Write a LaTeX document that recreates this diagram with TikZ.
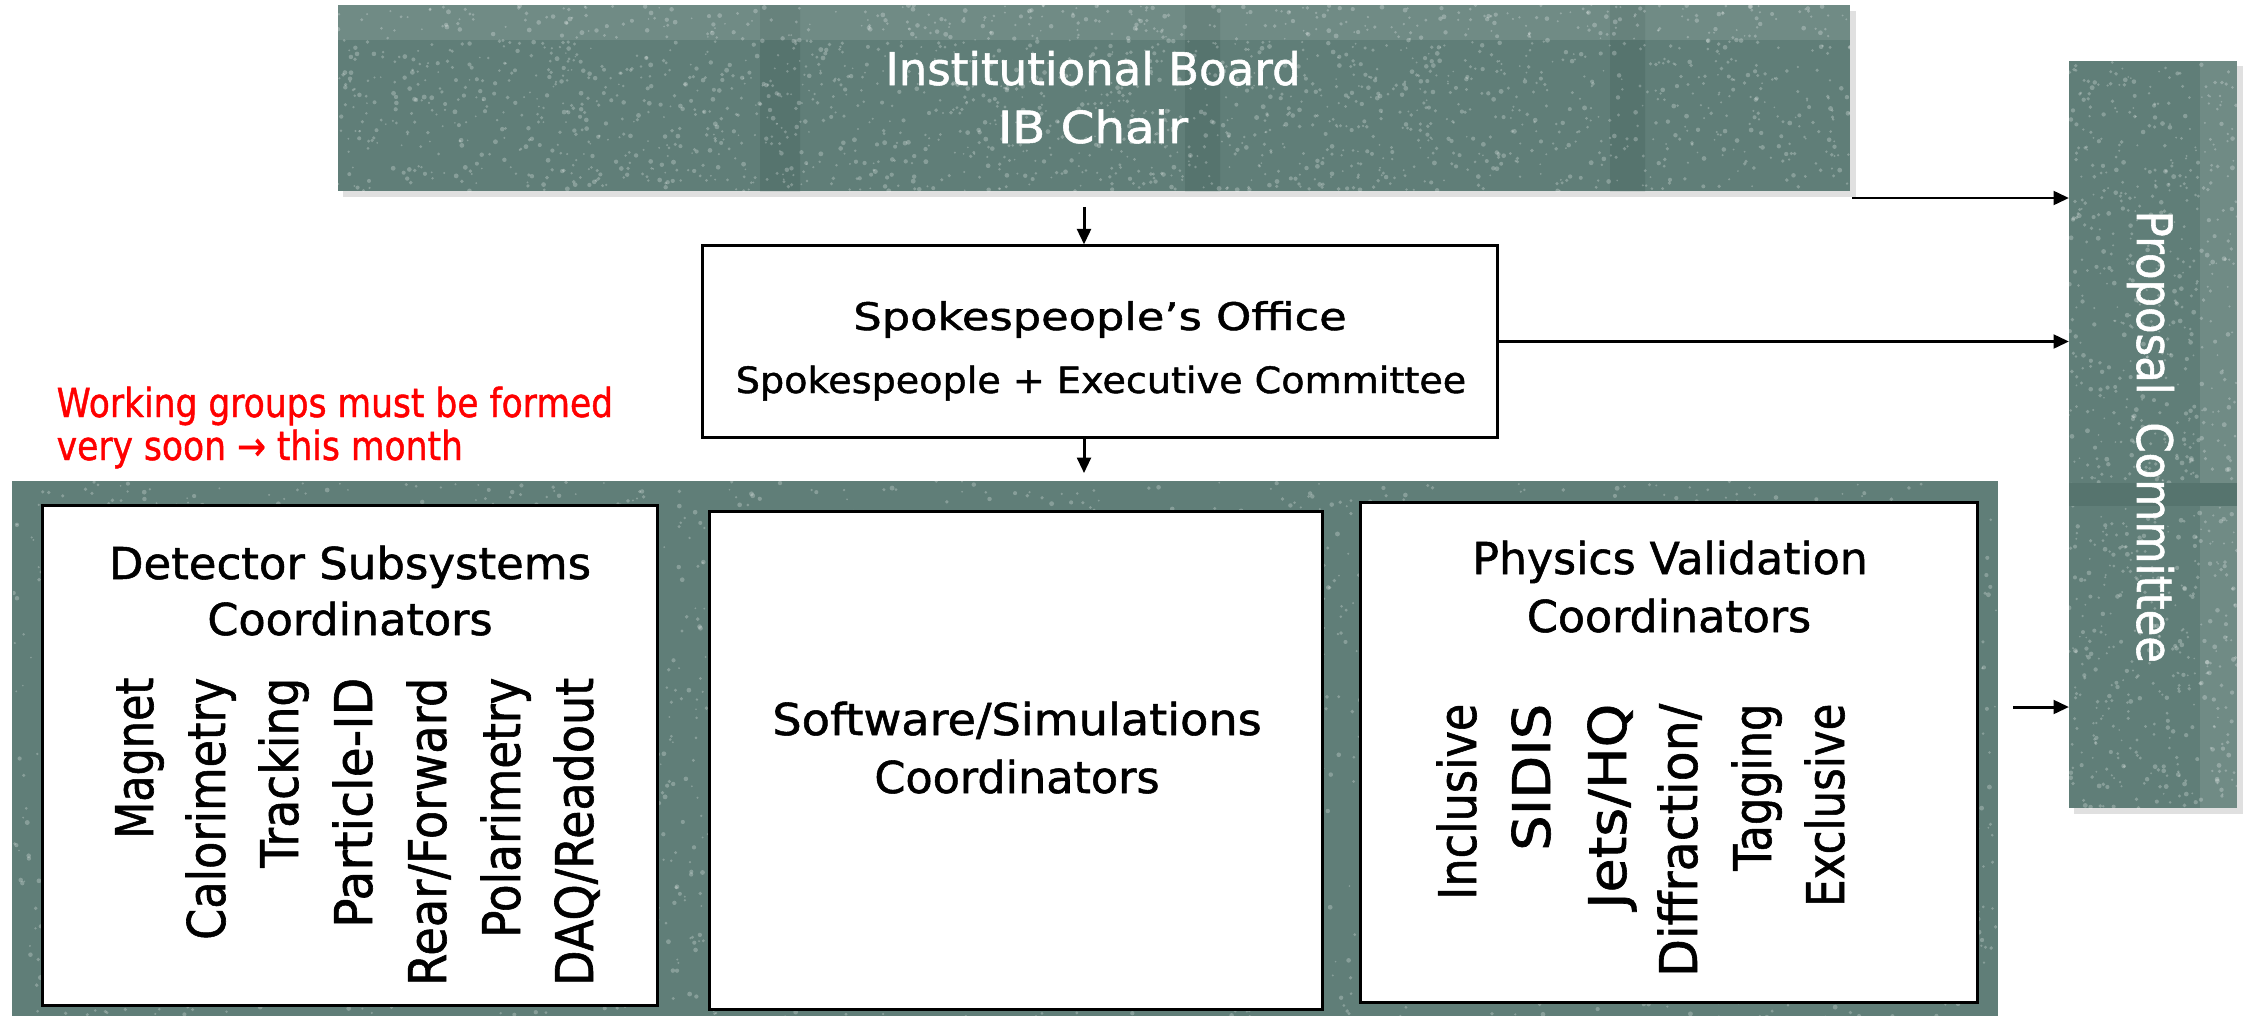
\documentclass[tikz,border=0pt]{standalone}
\usepackage{fontspec}
\setmainfont{DejaVu Sans}[FakeBold=1.2]
\usetikzlibrary{arrows.meta,calc}
\definecolor{chalk}{RGB}{96,126,120}
\definecolor{chalkdark}{RGB}{86,116,110}
\definecolor{redtxt}{RGB}{255,0,0}
\newsavebox{\fitbox}
\newcommand{\fitt}[3]{%
  \fontsize{#1}{#1}\selectfont\sbox{\fitbox}{#3}%
  \pgfmathsetmacro\fitfac{(#2)/\wd\fitbox}%
  \scalebox{\fitfac}[1]{\usebox{\fitbox}}}
\newcommand{\speckle}[5]{%
  \begin{scope}[fill opacity=0.25]
    \clip (#1,#2) rectangle (#3,#4);
    \foreach \k in {1,...,#5}{%
      \pgfmathsetmacro\sx{#1+rnd*(#3-#1)}%
      \pgfmathsetmacro\sy{#2+rnd*(#4-#2)}%
      \pgfmathsetmacro\sr{0.25+0.45*rnd}%
      \fill[white] (\sx,\sy) circle (\sr pt);
    }
  \end{scope}}
\begin{document}
\begin{tikzpicture}[x=0.01cm,y=-0.01cm,
  board/.style={draw=none, fill=chalk, inner sep=0pt, outer sep=0pt},
  wbox/.style={draw=black, line width=0.85pt, fill=white, inner sep=0pt},
  arr/.style={line width=0.85pt, -{Triangle[length=4.4pt,width=3.9pt]}},
  lbl/.style={inner sep=0pt, anchor=base},
  lblw/.style={inner sep=0pt, anchor=base west},
  vlbl/.style={inner sep=0pt, anchor=base east, rotate=90},
]
\pgfmathsetseed{7}
\useasboundingbox (0,0) rectangle (2249,1015);
\fill[white] (0,0) rectangle (2249,1015);

% ---- chalk boards
\fill[black!12] (343,11) rectangle (1856,197);
\node[board, minimum width=15.12cm, minimum height=1.86cm] (ib) at (1094,98) {};
\fill[chalkdark] (760,5) rectangle (800,191) (1185,5) rectangle (1220,191) (1610,5) rectangle (1645,191);
\speckle{338}{5}{1850}{191}{2000}
\fill[white,opacity=0.10] (338,5) rectangle (1850,40);
\node[board, minimum width=19.84cm, minimum height=5.39cm] (low) at (1005,750.5) {};
\speckle{13}{481}{1997}{1020}{3300}
\fill[black!12] (2074,66) rectangle (2243,814);
\node[board, minimum width=1.68cm, minimum height=7.47cm] (prop) at (2153,434.5) {};
\speckle{2069}{61}{2237}{808}{900}
\fill[white,opacity=0.10] (2200,61) rectangle (2237,808);
\fill[chalkdark] (2069,483) rectangle (2237,506);

% ---- white boxes
\node[wbox, minimum width=7.94cm, minimum height=1.91cm] (spk) at (1100,341.5) {};
\node[wbox, minimum width=6.14cm, minimum height=4.99cm] (det) at (350,755.5) {};
\node[wbox, minimum width=6.12cm, minimum height=4.97cm] (sw) at (1016,760.5) {};
\node[wbox, minimum width=6.16cm, minimum height=4.99cm] (phys) at (1669,752.5) {};

% ---- texts
\node[lbl, text=white] (ib1) at (1093,85) {\fitt{12.8pt}{4.15cm}{Institutional Board}};
\node[lbl, text=white] (ib2) at (1093,143) {\fitt{12.6pt}{1.90cm}{IB Chair}};
\node[inner sep=0pt, anchor=base west, rotate=-90, text=white] (prop1) at (2137,210)
  {\fitt{13.9pt}{4.52cm}{Proposal\ \ Committee}};

\node[lbl] (spk1) at (1100,330) {\fitt{10.8pt}{4.93cm}{Spokespeople’s Office}};
\node[lbl] (spk2) at (1101,393) {\fitt{10.3pt}{7.30cm}{Spokespeople + Executive Committee}};

\node[lblw, text=redtxt] (red1) at (56,417) {\fitt{11.4pt}{5.56cm}{Working groups must be formed}};
\node[lblw, text=redtxt] (red2) at (56,460) {\fitt{11.4pt}{4.06cm}{very soon → this month}};

\node[lbl] (det1) at (350,579) {\fitt{12.5pt}{4.82cm}{Detector Subsystems}};
\node[lbl] (det2) at (350,635) {\fitt{12.5pt}{2.85cm}{Coordinators}};
\node[vlbl] (d1) at (153,677) {\fitt{14.8pt}{1.61cm}{Magnet}};
\node[vlbl] (d2) at (225,677) {\fitt{14.8pt}{2.62cm}{Calorimetry}};
\node[vlbl] (d3) at (298,677) {\fitt{14.8pt}{1.90cm}{Tracking}};
\node[vlbl] (d4) at (372,677) {\fitt{14.8pt}{2.50cm}{Particle-ID}};
\node[vlbl] (d5) at (446,677) {\fitt{14.8pt}{3.08cm}{Rear/Forward}};
\node[vlbl] (d6) at (520,677) {\fitt{14.8pt}{2.60cm}{Polarimetry}};
\node[vlbl] (d7) at (593,677) {\fitt{14.8pt}{3.08cm}{DAQ/Readout}};

\node[lbl] (sw1) at (1017,735) {\fitt{12.5pt}{4.89cm}{Software/Simulations}};
\node[lbl] (sw2) at (1017,793) {\fitt{12.5pt}{2.85cm}{Coordinators}};

\node[lbl] (ph1) at (1670,574) {\fitt{12.5pt}{3.95cm}{Physics Validation}};
\node[lbl] (ph2) at (1669,632) {\fitt{12.5pt}{2.84cm}{Coordinators}};
\node[vlbl] (p1) at (1476,703) {\fitt{14.8pt}{1.96cm}{Inclusive}};
\node[vlbl] (p2) at (1550,703) {\fitt{14.8pt}{1.47cm}{SIDIS}};
\node[vlbl] (p3) at (1626,703) {\fitt{14.8pt}{2.05cm}{Jets/HQ}};
\node[vlbl] (p4) at (1697,703) {\fitt{14.8pt}{2.73cm}{Diffraction/}};
\node[vlbl] (p5) at (1771,703) {\fitt{14.8pt}{1.67cm}{Tagging}};
\node[vlbl] (p6) at (1844,703) {\fitt{14.8pt}{2.03cm}{Exclusive}};

% ---- connectors
\coordinate (ax) at (1084,0);
\draw[arr, shorten <=4.5pt] (ib.south -| ax) -- (spk.north -| ax);
\draw[arr, shorten >=2.2pt] (spk.south -| ax) -- (low.north -| ax);
\coordinate (a1) at (1852,198);
\draw[arr] (a1) -- (a1 -| prop.west);
\draw[arr] (spk.east) -- (spk.east -| prop.west);
\coordinate (a3) at (2013,707);
\draw[arr] (a3) -- (a3 -| prop.west);
\end{tikzpicture}
\end{document}
